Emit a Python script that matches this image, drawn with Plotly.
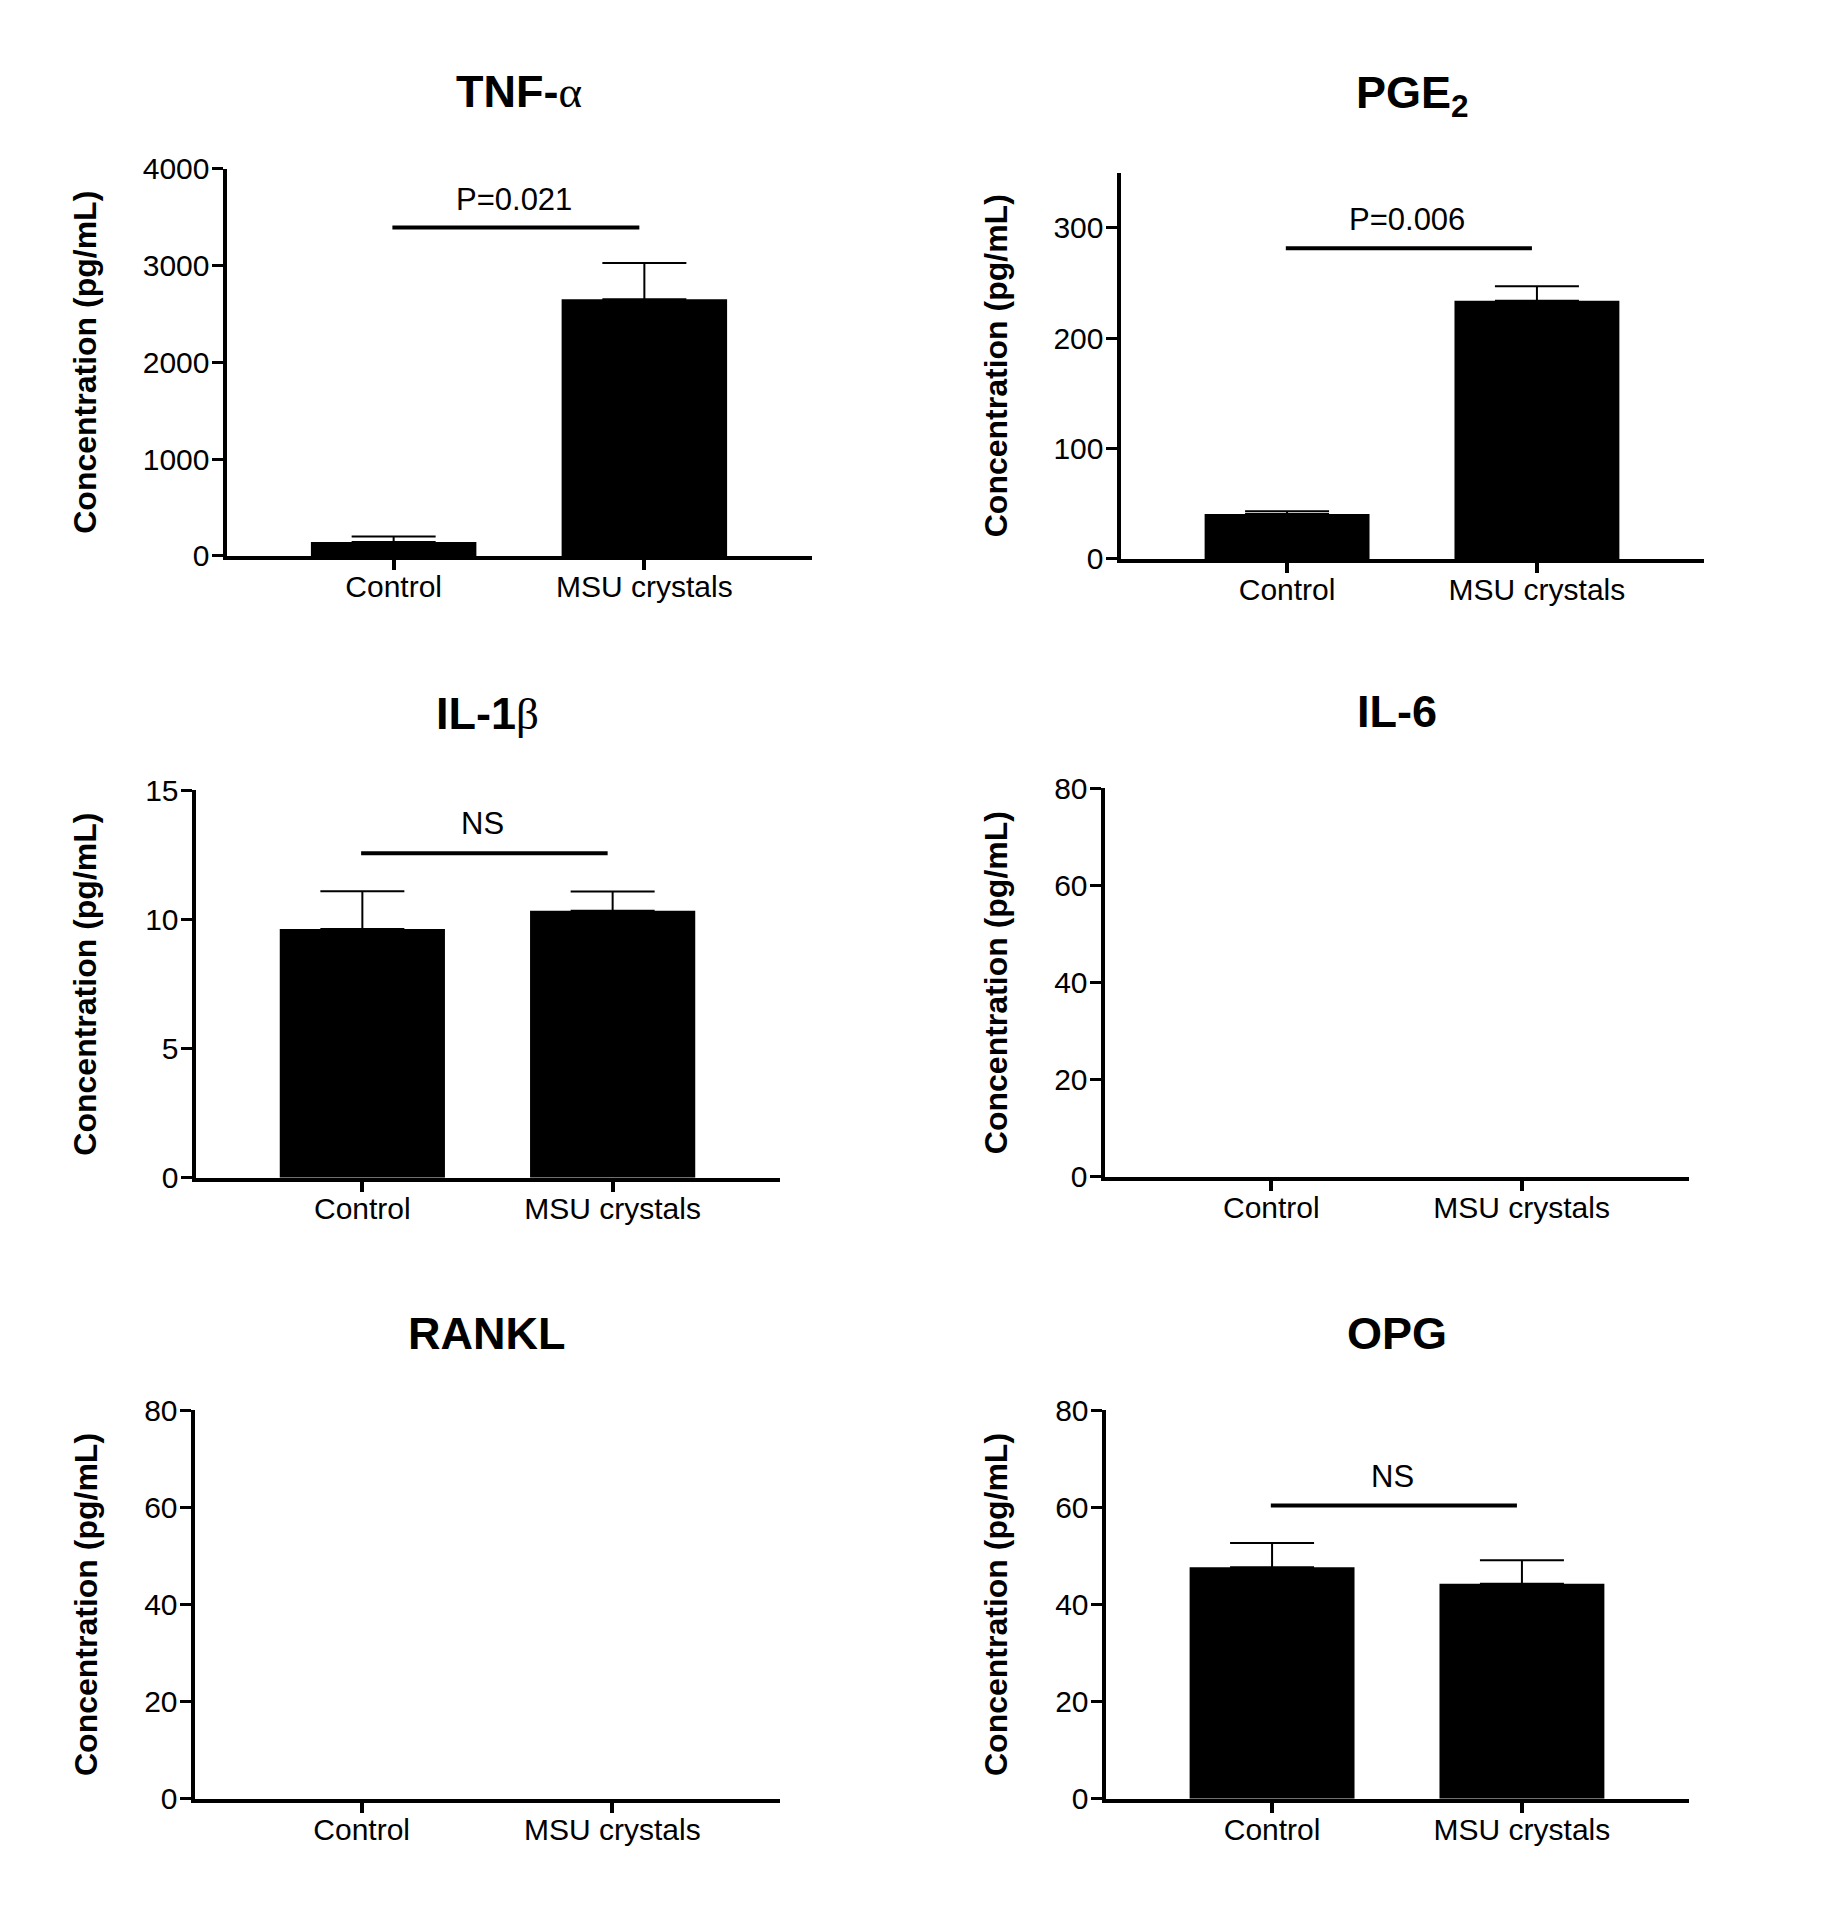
import plotly.graph_objects as go

# Group labels
groups = ["Control", "MSU crystals"]

# Mean values (pg/mL)
tnf_mean = [145, 2650]
tnf_err = [55, 375]
pge2_mean = [40.6, 234]
pge2_err = [2.6, 13]
il1b_mean = [9.64, 10.34]
il1b_err = [1.46, 0.75]
il6_mean = [0, 0]
il6_err = [0, 0]
rankl_mean = [0, 0]
rankl_err = [0, 0]
opg_mean = [47.7, 44.3]
opg_err = [5.0, 4.8]

GREEK = '<span style="font-family:Liberation Serif;font-weight:normal">{}</span>'

# Panel titles, y ranges and tick steps
titles = ["TNF-" + GREEK.format("α"), "PGE<sub>2</sub>", "IL-1" + GREEK.format("β"),
          "IL-6", "RANKL", "OPG"]
y_max = [4000, 350, 15, 80, 80, 80]
y_dtick = [1000, 100, 5, 20, 20, 20]

# Significance bars: height of the line and its label (None = no bar)
sig_y = [3391, 281.5, 12.57, None, None, 60.4]
sig_text_y = [3660, 306, 13.63, None, None, 66]
sig_labels = ["P=0.021", "P=0.006", "NS", None, None, "NS"]

means = [tnf_mean, pge2_mean, il1b_mean, il6_mean, rankl_mean, opg_mean]
errs = [tnf_err, pge2_err, il1b_err, il6_err, rankl_err, opg_err]

W, H = 1831, 1919
# pixel boxes of each plot area in the reference: (left, right, top, bottom)
boxes = [
    (223, 808, 167, 555),
    (1117, 1700, 171, 558),
    (192, 776, 790, 1178),
    (1101, 1685, 788, 1177),
    (191, 776, 1411, 1800),
    (1102, 1685, 1411, 1800),
]
ytitle_x = [82, 992]


# the page puts the figure a little off the window corner, compensate for it
def px(x):
    return x - 4.5


def py(y):
    return 1.0162 * y - 23.5


FONT = "Arial, Liberation Sans, sans-serif"

fig = go.Figure()
layout = dict(
    width=W, height=H,
    margin=dict(l=0, r=0, t=0, b=0),
    paper_bgcolor="white", plot_bgcolor="white",
    showlegend=False,
    font=dict(family=FONT, color="black"),
)
annotations = []
shapes = []

for i in range(6):
    n = i + 1
    xa = "xaxis" if n == 1 else f"xaxis{n}"
    ya = "yaxis" if n == 1 else f"yaxis{n}"
    xr = "x" if n == 1 else f"x{n}"
    yr = "y" if n == 1 else f"y{n}"
    l, r, t, b = boxes[i]
    l, r, t, b = px(l), px(r), py(t), py(b)

    fig.add_trace(go.Bar(
        x=[0, 1], y=means[i], xaxis=xr, yaxis=yr,
        width=0.66, marker=dict(color="black", line=dict(width=0)),
        error_y=dict(type="data", symmetric=False, array=errs[i], arrayminus=[0, 0],
                     color="black", thickness=2, width=42,
                     visible=any(e > 0 for e in errs[i])),
    ))

    layout[xa] = dict(
        domain=[l / W, r / W], anchor=yr,
        range=[-2 / 3, 5 / 3], tickvals=[0, 1], ticktext=groups,
        showline=True, linecolor="black", linewidth=4,
        ticks="outside", ticklen=10, tickwidth=4, tickcolor="black",
        ticklabelstandoff=-9,
        showgrid=False, zeroline=False, fixedrange=True,
        tickfont=dict(family=FONT, size=30, color="black"),
    )
    layout[ya] = dict(
        domain=[1 - b / H, 1 - t / H], anchor=xr,
        range=[0, y_max[i]], dtick=y_dtick[i], tick0=0,
        showline=True, linecolor="black", linewidth=4,
        ticks="outside", ticklen=11, tickwidth=3, tickcolor="black",
        ticklabelstandoff=-4,
        showgrid=False, zeroline=False, fixedrange=True,
        tickfont=dict(family=FONT, size=30, color="black"),
    )

    # panel title
    annotations.append(dict(
        text=f"<b>{titles[i]}</b>", xref="paper", yref="paper",
        x=(l + r) / 2 / W, y=1 - (t - 78) / H,
        xanchor="center", yanchor="middle", showarrow=False,
        font=dict(family=FONT, size=45, color="black"),
    ))
    # y axis title
    annotations.append(dict(
        text="<b>Concentration (pg/mL)</b>", xref="paper", yref="paper",
        x=px(ytitle_x[i % 2]) / W, y=1 - (t + b) / 2 / H, textangle=-90,
        xanchor="center", yanchor="middle", showarrow=False,
        font=dict(family=FONT, size=32, color="black"),
    ))

    if sig_y[i] is not None:
        shapes.append(dict(
            type="line", xref=xr, yref=yr, x0=-0.005, x1=0.98,
            y0=sig_y[i], y1=sig_y[i], line=dict(color="black", width=4),
        ))
        annotations.append(dict(
            text=sig_labels[i], xref=xr, yref=yr, x=0.48, y=sig_text_y[i],
            xanchor="center", yanchor="middle", showarrow=False, yshift=2,
            font=dict(family=FONT, size=31, color="black"),
        ))

layout["annotations"] = annotations
layout["shapes"] = shapes
fig.update_layout(**layout)

fig.write_html("out.html")
